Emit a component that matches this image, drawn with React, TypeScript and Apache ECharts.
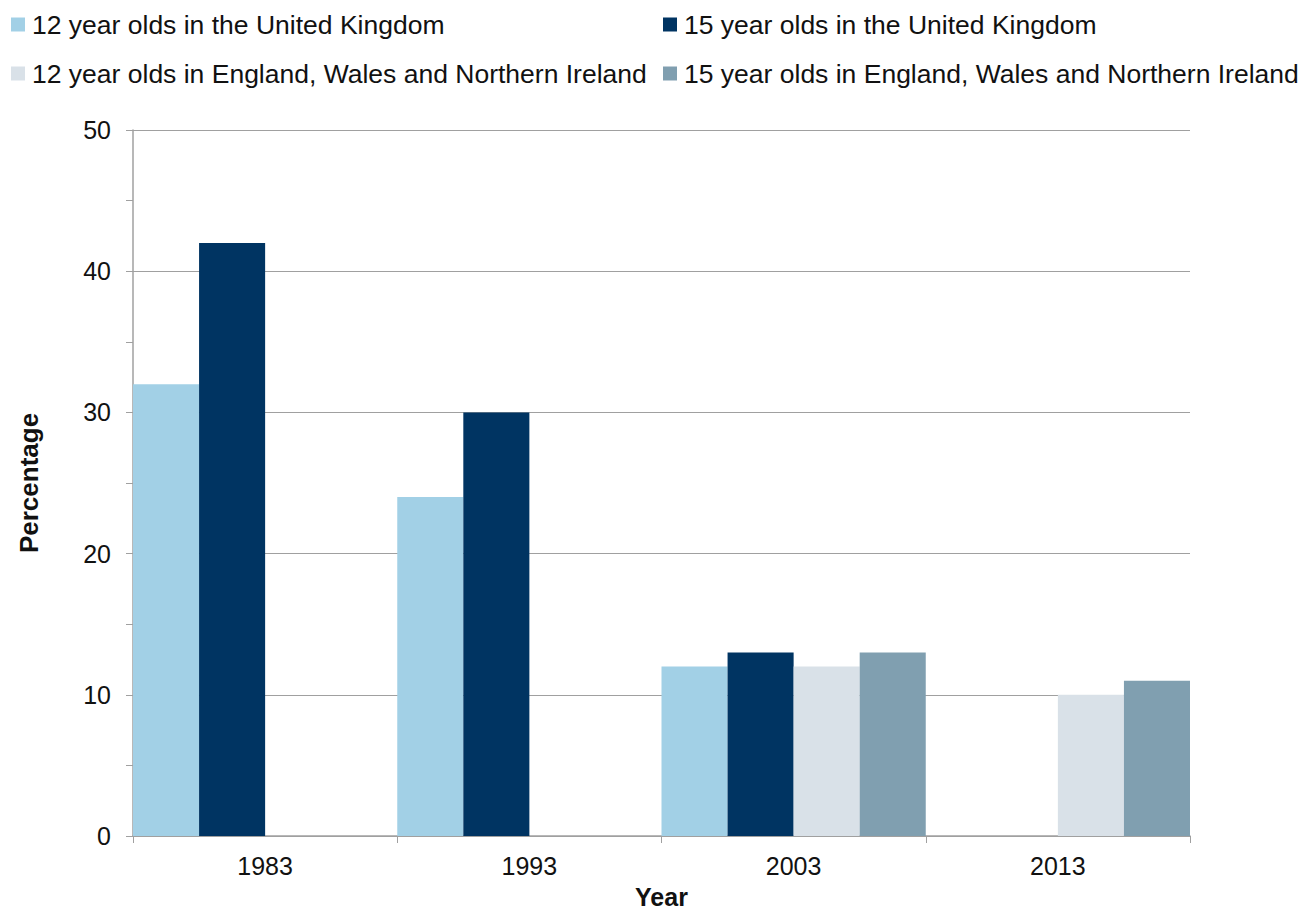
import React, { useEffect, useRef } from "react";
import * as echarts from "echarts";

const categories = ["1983", "1993", "2003", "2013"];
const seriesNames = [
  "12 year olds in the United Kingdom",
  "15 year olds in the United Kingdom",
  "12 year olds in England, Wales and Northern Ireland",
  "15 year olds in England, Wales and Northern Ireland",
];
const uk12 = [32, 24, 12, "-"];
const uk15 = [42, 30, 13, "-"];
const ewni12 = ["-", "-", 12, 10];
const ewni15 = ["-", "-", 13, 11];
const colors = ["#A2D0E6", "#003462", "#D9E1E8", "#809FB0"];

export default function App() {
  const ref = useRef<HTMLDivElement>(null);
  useEffect(() => {
    if (!ref.current) return;
    const chart = echarts.init(ref.current, undefined, { renderer: "svg" });
    const font = "Liberation Sans, Arial, sans-serif";
    const values = [uk12, uk15, ewni12, ewni15];
    const legendPos = [
      { left: 11, top: 11 },
      { left: 663, top: 11 },
      { left: 11, top: 60 },
      { left: 663, top: 60 },
    ];
    chart.setOption({
      animation: false,
      color: colors,
      textStyle: { fontFamily: font },
      legend: seriesNames.map((n, i) => ({
        data: [n],
        ...legendPos[i],
        padding: 0,
        icon: "rect",
        itemWidth: 14,
        itemHeight: 14,
        itemGap: 0,
        textStyle: { fontSize: 26.5, color: "#111", fontFamily: font, padding: [0, 0, 0, 2] },
      })),
      grid: { left: 133, right: 112, top: 130, bottom: 77, outerBoundsMode: "none", containLabel: false },
      xAxis: {
        type: "category",
        data: categories,
        name: "Year",
        nameLocation: "middle",
        nameGap: 48,
        nameTextStyle: { fontSize: 25, fontWeight: "bold", color: "#111", fontFamily: font, lineHeight: 26 },
        axisLine: { lineStyle: { color: "#A0A0A0", width: 1.5 } },
        axisTick: { show: true, interval: 0, length: 7, lineStyle: { color: "#A0A0A0" } },
        axisLabel: { fontSize: 25, color: "#111", margin: 17, fontFamily: font },
      },
      yAxis: {
        type: "value",
        min: 0,
        max: 50,
        interval: 10,
        name: "Percentage",
        nameLocation: "middle",
        nameGap: 91,
        nameRotate: 90,
        nameTextStyle: { fontSize: 26, fontWeight: "bold", color: "#111", fontFamily: font },
        axisLine: { show: true, lineStyle: { color: "#A0A0A0", width: 1.5 } },
        axisTick: { show: true, length: 7, lineStyle: { color: "#A0A0A0" } },
        minorTick: { show: true, splitNumber: 2, length: 7, lineStyle: { color: "#A0A0A0" } },
        splitLine: { show: true, lineStyle: { color: "#A0A0A0", width: 1 } },
        axisLabel: { fontSize: 25, color: "#111", margin: 22, fontFamily: font },
      },
      series: seriesNames.map((n, i) => ({
        name: n,
        type: "bar",
        data: values[i],
        barGap: "0%",
        barCategoryGap: "0%",
        itemStyle: { color: colors[i] },
      })),
    });
    return () => chart.dispose();
  }, []);
  return (
    <div
      ref={ref}
      style={{ position: "fixed", left: 0, top: 0, width: 1302, height: 913, background: "#fff" }}
    />
  );
}
